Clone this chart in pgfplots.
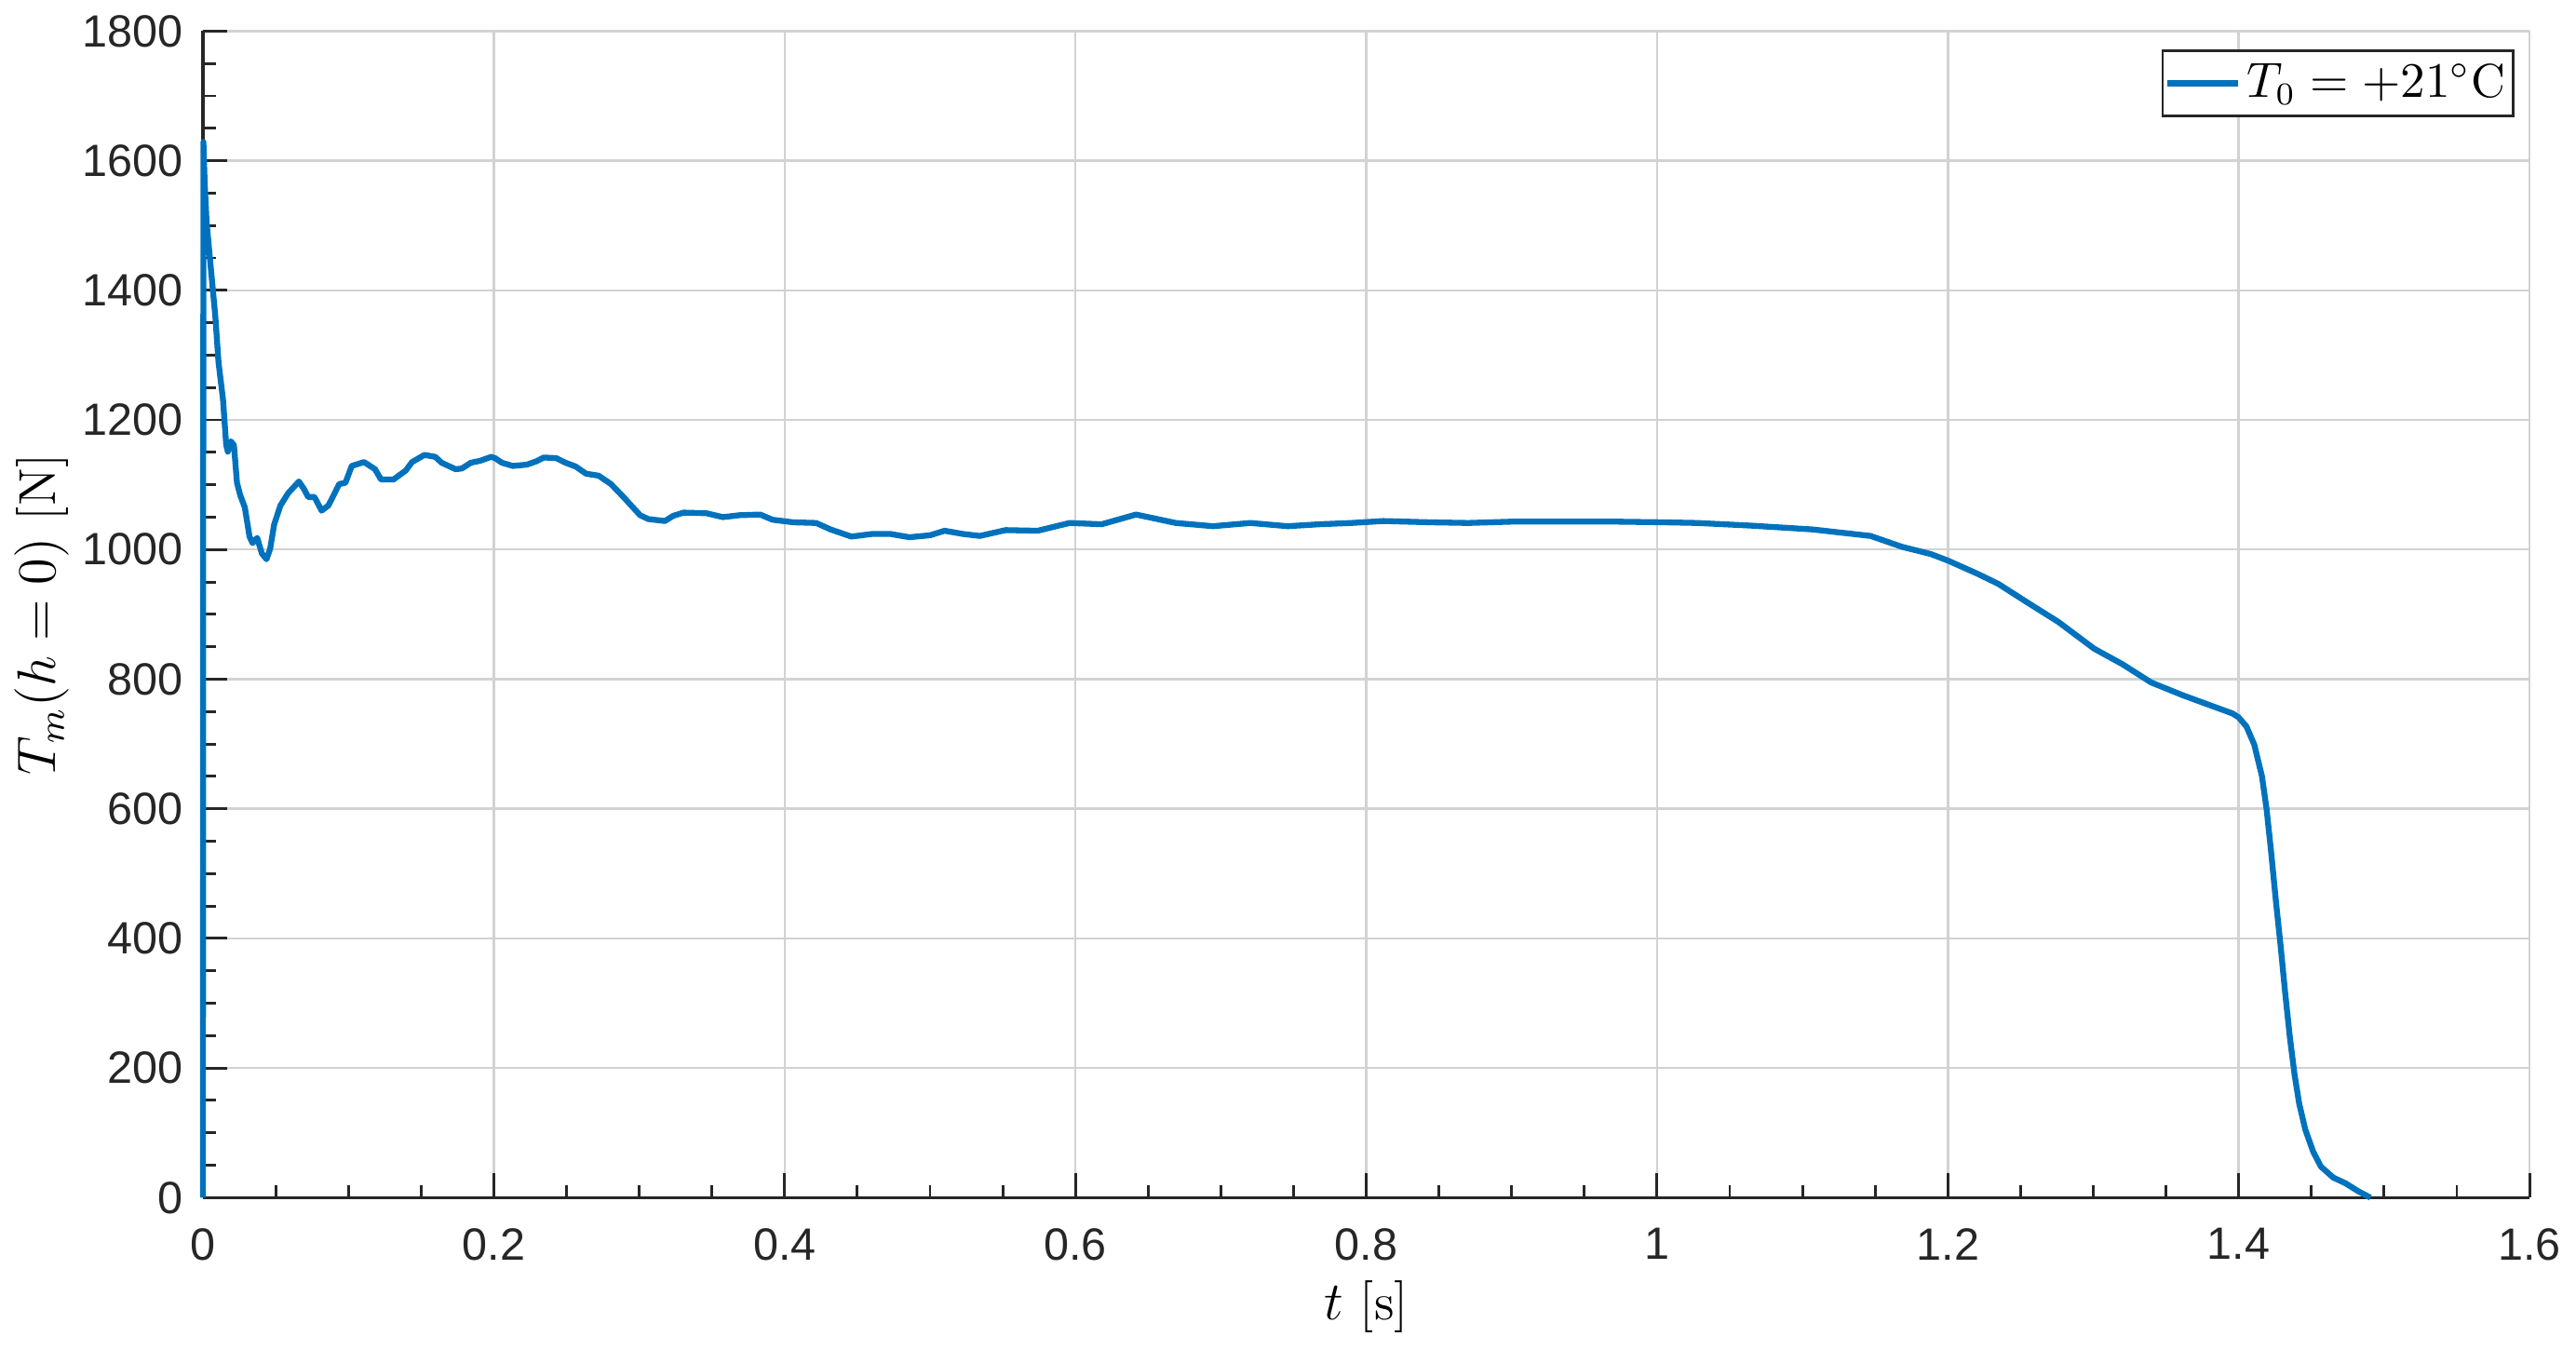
\documentclass[border=0pt]{standalone}
\usepackage{pgfplots}
\pgfplotsset{compat=1.18}
\usepackage{pgfplotstable}
\usepackage{fontspec}
\newfontfamily\tickfont{Liberation Sans}
\definecolor{mblue}{RGB}{0,114,189}
\definecolor{axgray}{RGB}{38,38,38}
\definecolor{gridgray}{RGB}{210,210,210}

\pgfplotstableread{
t T
0 0
0.0003 1629
0.0012 1565
0.0025 1505
0.0053 1437
0.0085 1360
0.0107 1289
0.0138 1231
0.0160 1161
0.0171 1151
0.0192 1167
0.0213 1161
0.0234 1103
0.0256 1084
0.0288 1065
0.0320 1020
0.0341 1010
0.0373 1018
0.0405 994
0.0437 985
0.0462 1001
0.0490 1039
0.0533 1068
0.0586 1087
0.0660 1105
0.0693 1094
0.0724 1081
0.0767 1081
0.0816 1060
0.0863 1068
0.0937 1101
0.0980 1103
0.1023 1129
0.1108 1135
0.1183 1124
0.1225 1108
0.1310 1108
0.1395 1122
0.1438 1135
0.1523 1146
0.1598 1143
0.1641 1134
0.1737 1124
0.1780 1125
0.1843 1134
0.1907 1137
0.1982 1143
0.2009 1141
0.2056 1134
0.2131 1129
0.2227 1131
0.2291 1136
0.2344 1142
0.2430 1141
0.2493 1134
0.2564 1128
0.2635 1117
0.2721 1114
0.2806 1101
0.2892 1081
0.3006 1053
0.3063 1047
0.3177 1044
0.3234 1052
0.3305 1057
0.3462 1056
0.3576 1050
0.3690 1053
0.3832 1054
0.3917 1046
0.4060 1042
0.4217 1041
0.4316 1031
0.4459 1020
0.4601 1024
0.4729 1024
0.4858 1019
0.5000 1022
0.5100 1029
0.5228 1024
0.5342 1021
0.5520 1030
0.5740 1029
0.5960 1041
0.6180 1039
0.6417 1054
0.6690 1041
0.6947 1036
0.7203 1041
0.7459 1036
0.7678 1039
0.7898 1041
0.8117 1044
0.8446 1042
0.8702 1041
0.8995 1043
0.9360 1043
0.9726 1043
1.0055 1042
1.0274 1041
1.0640 1037
1.1070 1031
1.1468 1021
1.1687 1004
1.1883 993
1.2000 983
1.2200 963
1.2347 947
1.2542 919
1.2762 888
1.3006 847
1.3201 823
1.3397 795
1.3617 775
1.3812 759
1.3958 747
1.4000 741
1.4053 727
1.4107 699
1.4160 650
1.4192 599
1.4224 531
1.4256 457
1.4288 389
1.4320 315
1.4352 247
1.4384 190
1.4416 145
1.4458 105
1.4512 71
1.4565 48
1.4650 31
1.4736 22
1.4821 10
1.4906 0
}\datatable

\begin{document}
\begin{tikzpicture}
\begin{axis}[
  scale only axis, width=18.09cm, height=9.07cm,
  xmin=0, xmax=1.6, ymin=0, ymax=1800,
  xtick={0,0.2,0.4,0.6,0.8,1,1.2,1.4,1.6},
  ytick={0,200,400,600,800,1000,1200,1400,1600,1800},
  minor x tick num=3, minor y tick num=3,
  axis x line*=bottom, axis y line*=left,
  axis line style={axgray, line width=0.7pt},
  tick style={axgray, line width=0.6pt},
  major tick length=0.19cm, minor tick length=0.1cm,
  tick align=inside,
  grid=major,
  major grid style={gridgray, line width=0.5pt},
  ticklabel style={font=\fontsize{10}{11}\tickfont, text=axgray},
  /pgf/number format/assume math mode=true,
  /pgf/number format/1000 sep={},
  scaled ticks=false,
  xticklabel shift=3.3pt,
  yticklabel shift=0.8pt,
  xlabel={$t$ [s]}, ylabel={$T_m(h=0)$ [N]},
  label style={font=\fontsize{11.5}{13}\selectfont},
  xlabel style={at={(axis description cs:0.5,-0.0937)}, anchor=center},
  ylabel style={at={(axis description cs:-0.0691,0.5)}, anchor=center},
  clip=false,
  legend style={at={(axis description cs:1,1)}, anchor=north east, xshift=-0.12cm, yshift=-0.145cm,
    draw=axgray, line width=0.5pt, font=\fontsize{10.5}{12}\selectfont, inner xsep=0.3pt, inner ysep=1.3pt,
    nodes={inner sep=1.4pt}},
  legend cell align=left,
  legend image code/.code={\draw[#1] (0cm,0cm) -- (0.55cm,0cm);},
]
\addplot[mblue, line width=1.3pt, line join=round] table[x=t, y=T] {\datatable};
\addlegendentry{$T_0 = +21^{\circ}\mathrm{C}$}
\coordinate (SW) at (rel axis cs:0,0);
\coordinate (NE) at (rel axis cs:1,1);
\end{axis}
\path (SW) ++(-1.554cm,-1.18cm);
\path (NE) ++(0.354cm,0.231cm);
\end{tikzpicture}
\end{document}
